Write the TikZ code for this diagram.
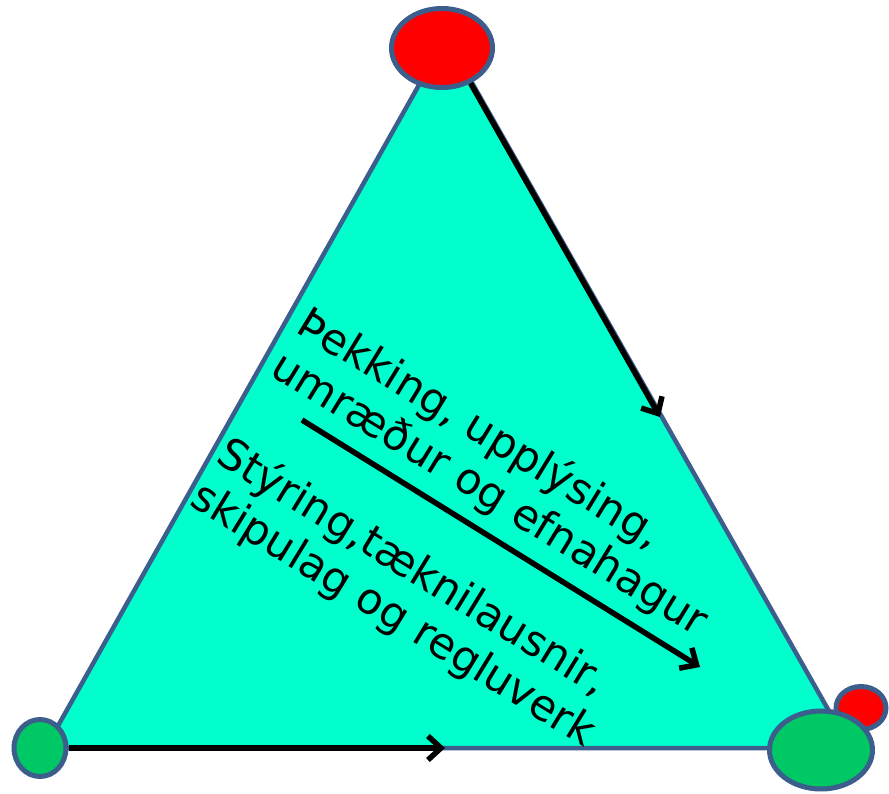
\documentclass[tikz,border=0pt]{standalone}
\usepackage{fontspec}
\setmainfont{DejaVu Sans}
\usetikzlibrary{arrows.meta,shapes.geometric}
\definecolor{tealfill}{HTML}{00FFCC}
\definecolor{rim}{HTML}{3B5E8C}
\definecolor{dotred}{HTML}{FF0000}
\definecolor{dotgreen}{HTML}{00C864}

\begin{document}
\begin{tikzpicture}[x=1pt, y=-1pt, every node/.style={font=\fontsize{43}{50}\selectfont}, >={Straight Barb[length=13pt,width=24pt]},
	blob/.style={ellipse, draw=rim, line width=5pt, inner sep=0pt},
	arr/.style={->, line width=5.5pt},
	tiltext/.style={rotate=-31.5, anchor=base west, align=left, inner sep=0pt}]
	\useasboundingbox (0,0) rectangle (889,794);
	\draw[rim, line width=4.5pt, fill=tealfill] (446,37) -- (850,748) -- (45.5,748) -- cycle;
	\node[blob, fill=dotred, minimum width=101pt, minimum height=79pt] (top) at (442,48) {};
	\node[blob, fill=dotred, minimum width=50pt, minimum height=43pt] (redr) at (861,708) {};
	\node[blob, fill=dotgreen, minimum width=103pt, minimum height=78pt] (right) at (821,750) {};
	\node[blob, fill=dotgreen, minimum width=52pt, minimum height=57pt] (left) at (40,748) {};
	\coordinate (rtip) at (660,417);
	\coordinate (btip) at (445,748);
	\coordinate (mstart) at (302,420);
	\coordinate (mtip) at (700,667);
	\draw[arr] (top.-51) -- (rtip);
	\draw[arr] (left) -- (btip);
	\draw[arr] (mstart) -- (mtip);
	\node[tiltext] (know) at (268.5,374) {Þekking, upplýsing,\\umræður og efnahagur};
	\node[tiltext] (gov) at (188,504.5) {Stýring,tæknilausnir,\\skipulag og regluverk};
\end{tikzpicture}
\end{document}
